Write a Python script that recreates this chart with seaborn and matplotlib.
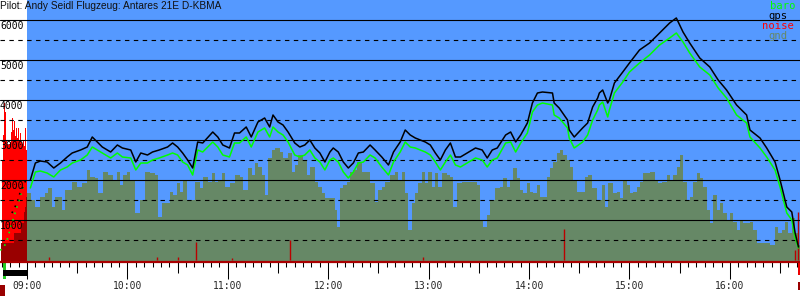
import matplotlib
matplotlib.use("Agg")
import matplotlib.pyplot as plt
from matplotlib.patches import Rectangle
from matplotlib.ticker import MultipleLocator, FixedLocator, FuncFormatter
import pandas as pd
import seaborn as sns

# time = minutes after 09:00, altitudes in ft
flight_min = [2, 5, 8, 12, 16, 20, 24, 27, 32, 36, 39, 42, 45, 50, 54, 57, 62, 65, 68, 72,
              75, 79, 84, 87, 90, 93, 96, 99, 102, 105, 111, 114,
              117, 121, 124, 127, 131, 134, 138, 142, 145, 147, 150, 153, 156, 160, 163, 166,
              169, 172, 175, 178, 181, 183, 186, 189, 192, 195, 198, 201, 205, 208, 212, 216,
              219, 223, 226, 229,
              232, 235, 238, 241, 244, 247, 250, 253, 256, 259, 263, 268, 272, 275, 278, 281,
              286, 289, 292, 295, 299, 302, 305, 308, 314, 315, 318, 323, 324, 327, 332, 335, 338,
              341, 342, 344, 347, 348, 351, 356, 360, 366, 372, 378, 384, 388, 392, 396, 402,
              408, 413, 418, 424, 430, 432, 438, 442, 447, 450, 454, 457, 459, 461]
gps_alt = [2000, 2425, 2475, 2450, 2300, 2425, 2575, 2675, 2750, 2825, 3075, 2950, 2825, 2700,
           2875, 2800, 2750, 2450, 2675, 2625, 2700, 2750, 2825, 2925, 2825, 2675, 2500, 2300,
           2950, 2925, 3200, 3075,
           2875, 2800, 3175, 3175, 3325, 3075, 3450, 3550, 3325, 3625, 3450, 3375, 3200, 2925,
           2825, 2875, 3000, 2800, 2675, 2450, 2700, 2800, 2700, 2450, 2300, 2425, 2675, 2700,
           2875, 2750, 2575, 2375, 2700, 2950, 3250, 3125,
           3050, 3000, 2950, 2875, 2675, 2500, 2750, 2925, 2575, 2575, 2675, 2800, 2750, 2550,
           2750, 2800, 3125, 3200, 2950, 3125, 3425, 3925, 4175, 4200, 4175, 3925, 3800, 3500,
           3250, 3075, 3300, 3425, 3825,
           4050, 4175, 4250, 3925, 4000, 4425, 4700, 4925, 5250, 5425, 5675, 5925, 6050, 5700,
           5425, 5050, 4825, 4500, 4250, 3875, 3625, 3250, 3050, 2800, 2450, 2000, 1325, 1200,
           675, 325]
baro_alt = [1800, 2200, 2225, 2175, 2075, 2250, 2325, 2425, 2500, 2625, 2825, 2750, 2675, 2550,
            2675, 2575, 2550, 2250, 2425, 2425, 2500, 2550, 2625, 2675, 2625, 2450, 2375, 2125,
            2750, 2700, 2950, 2825,
            2625, 2575, 2925, 2925, 3075, 2825, 3200, 3300, 3075, 3325, 3200, 3125, 2950, 2625,
            2575, 2625, 2750, 2550, 2450, 2250, 2500, 2550, 2450, 2200, 2050, 2200, 2425, 2450,
            2625, 2550, 2325, 2125, 2450, 2700, 2950, 2825,
            2800, 2750, 2700, 2625, 2450, 2250, 2450, 2625, 2375, 2325, 2425, 2550, 2500, 2325,
            2500, 2550, 2925, 2950, 2700, 2925, 3175, 3700, 3875, 3925, 3875, 3625, 3550, 3300,
            3050, 2800, 2950, 3125, 3500,
            3750, 3875, 3950, 3575, 3750, 4175, 4450, 4700, 4925, 5125, 5375, 5550, 5675, 5450,
            5175, 4825, 4625, 4300, 4050, 3625, 3425, 3075, 2800, 2575, 2250, 1825, 1175, 1000,
            550, 300]

# climb under engine (sparse fixes before 09:00)
climb_gps_min = [-9.0, -6.0, -4.2, -2.4, 0.0]
climb_gps_alt = [1175, 1425, 1675, 1825, 2075]
climb_baro_min = [-16.1, -14.3, -11.9, -10.2, -8.4, -6.0, -4.2, -2.4, 0.0]
climb_baro_alt = [250, 275, 500, 750, 1000, 1325, 1575, 1825, 1875]

gnd_min = [0, 2.4, 4.8, 7.8, 10.8, 12.5, 14.9, 16.7, 20.9, 22.7, 26.9, 29.9, 32.9, 35.9, 37.6,
           40.6, 42.4, 45.4, 48.4, 51.4, 53.8, 55.6, 57.4, 59.8, 61.5, 64.5, 67.5, 70.5, 73.5,
           76.5, 78.3, 80.7, 82.5, 85.4, 87.2, 89.6, 91.4, 93.2, 95.6, 97.4, 100.4, 103.4, 105.2,
           108.1, 110.5, 112.3, 114.1, 116.5, 118.3, 121.3, 124.3, 127.3, 129.1, 132.0, 134.4,
           136.2, 138.0, 140.4, 142.2, 144.0, 146.4, 148.2, 151.2, 153.0, 156.0, 158.3, 160.1,
           161.9, 164.9, 167.3, 169.1, 172.1, 173.9, 176.3, 178.1, 182.2, 184.0, 185.2, 187.0,
           188.8, 191.2, 193.0, 194.8, 197.2, 200.2, 203.2, 204.9, 207.9, 209.7, 212.1, 213.9,
           216.9, 219.9, 221.7, 224.1, 225.9, 227.6, 230.0, 231.8, 233.6, 236.0, 237.8, 239.6,
           242.0, 243.8, 245.6, 248.0, 251.0, 252.7, 254.5, 256.9, 259.9, 265.9, 268.9, 270.7,
           272.5, 274.9, 276.6, 279.6, 282.6, 284.4, 286.8, 288.6, 290.4, 292.8, 294.6, 296.4,
           298.8, 300.5, 302.3, 304.7, 306.5, 308.3, 310.7, 312.5, 314.3, 316.7, 318.5, 320.3,
           322.7, 324.4, 326.2, 328.6, 330.4, 333.4, 335.2, 337.6, 340.6, 343.6, 345.4, 347.1,
           350.1, 352.5, 354.3, 356.1, 358.5, 360.3, 362.1, 364.5, 366.3, 368.1, 370.5, 372.2,
           375.2, 377.0, 379.4, 382.4, 384.2, 386.0, 388.4, 390.2, 392.0, 394.4, 396.1, 397.9,
           400.3, 402.1, 403.9, 406.3, 408.1, 409.9, 412.3, 414.1, 415.9, 418.3, 420.0, 421.8,
           424.2, 426.0, 427.8, 432.0, 433.8, 436.2, 443.9, 446.9, 448.7, 451.1, 452.9, 454.7,
           457.1, 458.9, 460.7, 461.9]
gnd_alt = [1675, 1500, 1325, 1575, 1675, 1800, 1325, 1575, 1250, 1750, 1950, 1825, 1925, 2250,
           2075, 2050, 1675, 2200, 2125, 2000, 2200, 1875, 2125, 2200, 2000, 1175, 1500, 2200,
           2175, 2125, 1075, 1425, 1425, 1700, 1625, 1925, 1700, 2000, 1500, 1500, 1950, 1800,
           2075, 1950, 2175, 1950, 2000, 2175, 1825, 1925, 2125, 2075, 1750, 2300, 2125, 2425,
           2325, 2125, 1625, 2550, 2750, 2800, 2700, 2550, 2675, 2200, 2375, 2625, 2500, 2125,
           2325, 1950, 1825, 1675, 1550, 1550, 1250, 825, 1800, 1875, 1950, 2200, 2250, 2450,
           2200, 2200, 1925, 1450, 1750, 1825, 1950, 2125, 2200, 2000, 2200, 1675, 750, 1425,
           1675, 1925, 2200, 1925, 2200, 1825, 2175, 1825, 2175, 2125, 2075, 1325, 1925, 1950,
           1950, 1875, 1000, 825, 1125, 1500, 1800, 1825, 2050, 1825, 2000, 2300, 2050, 1750,
           1675, 1925, 1700, 1675, 1875, 1575, 1575, 2075, 2300, 2450, 2675, 2750, 2625, 2500,
           2325, 2000, 1700, 1700, 2075, 2125, 1800, 1500, 1875, 1325, 1925, 1675, 1700, 1550,
           2000, 1875, 1675, 1700, 1825, 1950, 2175, 2175, 2200, 2000, 1925, 1950, 2125, 2000,
           2125, 2325, 2625, 1950, 1500, 1575, 1950, 2175, 2050, 1825, 1250, 925, 1625, 1250,
           1425, 1175, 1000, 1175, 950, 750, 1000, 925, 950, 750, 425, 375, 825, 675, 750, 950,
           675, 1050, 675, 375, 375]

# ground under the engine run (drawn dark red)
motor_gnd_min = [-15.5, -8.4, -7.8, -4.2, -3.6, -1.8, -1.2, -0.6, 0.0]
motor_gnd_alt = [425, 425, 675, 675, 925, 1200, 1325, 1575, 2175]

# engine noise level
engine_noise_min = [-14.9, -14.3, -13.7, -13.1, -12.5, -11.9, -11.4, -10.8, -10.2, -9.6, -9.0,
                    -8.4, -7.8, -7.2, -6.6, -6.0, -5.4, -4.8, -4.2, -3.6, -3.0, -2.4, -1.8,
                    -1.2, -0.6]
engine_noise = [2500, 3125, 3925, 3700, 3000, 2900, 2875, 2900, 2950, 3200, 3550, 3250, 3475,
                3100, 3300, 3050, 3300, 3000, 3175, 2950, 2900, 3000, 2850, 3300, 2750]
flight_noise_min = [13.1, 77.7, 90.2, 101.0, 122.5, 157.1, 236.6, 320.9, 458.9, 460.7]
flight_noise = [75, 75, 75, 450, 50, 500, 75, 775, 250, 1200]

takeoff_min = -14.3
engine_off_min = 0.0
landing_min = 460.7

hour_labels = ["09:00", "10:00", "11:00", "12:00", "13:00", "14:00", "15:00", "16:00"]
alt_labels = [1000, 2000, 3000, 4000, 5000, 6000]
title = "Pilot: Andy Seidl Flugzeug: Antares 21E D-KBMA"

SKY = "#5599ff"
GND = "#668866"
DARKRED = "#990000"

sns.set_style("white")
plt.rcParams["font.family"] = ["DejaVu Sans Mono"]

fig = plt.figure(figsize=(8, 3), dpi=100)
ax = fig.add_axes([0, 38 / 300, 1, 262 / 300])
ax.set_xlim(-16.13, 461.9)
ax.set_ylim(-50, 6500)
ax.set_facecolor("white")

# sky only while gliding
ax.axvspan(0, 461.9, color=SKY, lw=0, zorder=0)

ax.fill_between(gnd_min, gnd_alt, -50, step="post", color=GND, lw=0, zorder=1)
ax.bar(engine_noise_min, engine_noise, width=0.75, bottom=0, color="#ff0000", lw=0,
       align="edge", zorder=1)
ax.fill_between(motor_gnd_min, motor_gnd_alt, -50, step="post", color=DARKRED, lw=0, zorder=1.5)
ax.vlines(flight_noise_min, 0, flight_noise, color="#bb0000", lw=1.0, zorder=1.6)

for v in range(500, 6001, 500):
    ls = "-" if v % 1000 == 0 else (0, (4, 4))
    ax.axhline(v, color="black", lw=0.8, ls=ls, zorder=3)

df = pd.DataFrame({"t": flight_min * 2, "alt": baro_alt + gps_alt,
                   "series": ["baro"] * len(flight_min) + ["gps"] * len(flight_min)})
sns.lineplot(data=df, x="t", y="alt", hue="series", palette={"baro": "#00ff00", "gps": "black"},
             estimator=None, legend=False, lw=1.1, ax=ax, zorder=4)
ax.plot(climb_baro_min, climb_baro_alt, color="#00ff00", lw=1.2, ls=(0, (1, 3)), zorder=4)
ax.plot(climb_gps_min, climb_gps_alt, color="black", lw=1.2, ls=(0, (1, 3)), zorder=4)

# axes decoration
for s in ["top", "left", "right"]:
    ax.spines[s].set_visible(False)
ax.spines["bottom"].set_color("#aa0000")
ax.spines["bottom"].set_linewidth(1.6)
ax.spines["bottom"].set_zorder(5)
ax.set_yticks([])
ax.set_xlabel("")
ax.set_ylabel("")
ax.xaxis.set_major_locator(FixedLocator(list(range(0, 421, 60))))
ax.xaxis.set_major_formatter(FuncFormatter(lambda v, p: hour_labels[int(round(v / 60))]))
ax.xaxis.set_minor_locator(MultipleLocator(5))
ax.tick_params(axis="x", which="major", bottom=True, direction="out", length=12.2, width=0.75,
               color="black", labelsize=7, pad=1.5)
ax.tick_params(axis="x", which="minor", bottom=True, direction="out", length=3.6, width=0.75,
               color="black")

sec = ax.secondary_xaxis("bottom")
sec.set_xticks(list(range(30, 461, 60)))
sec.tick_params(axis="x", which="major", bottom=True, direction="out", length=7.9, width=0.75,
                color="black", labelbottom=False)
sec.xaxis.set_minor_locator(FixedLocator([]))
sec.spines["bottom"].set_visible(False)

for v in alt_labels:
    ax.text(0, v - 25, str(v), transform=ax.get_yaxis_transform(), ha="left", va="top",
            fontsize=7, color="black", zorder=6)

# takeoff / engine / landing markers under the time axis
tr = ax.get_xaxis_transform()
ax.add_patch(Rectangle((takeoff_min, -0.0649), 1.8, 0.0649, transform=tr, color="#22cc22",
                       lw=0, clip_on=False))
ax.add_patch(Rectangle((takeoff_min, -0.0534), engine_off_min - takeoff_min, 0.0229,
                       transform=tr, color="black", lw=0, clip_on=False))
ax.add_patch(Rectangle((-16.13, -0.1298), 3.0, 0.042, transform=tr, color=DARKRED,
                       lw=0, clip_on=False))
ax.add_patch(Rectangle((landing_min, -0.0496), 1.2, 0.0496, transform=tr, color="#ee0000",
                       lw=0, clip_on=False))
ax.add_patch(Rectangle((landing_min, -0.1069), 1.2, 0.0305, transform=tr, color=DARKRED,
                       lw=0, clip_on=False))

fig.text(0, 1 - 1 / 300, title, ha="left", va="top", fontsize=7.3,
         family=["Liberation Sans"], color="#111111")

legend = [("baro", "#00ff00", 770, 9), ("gps", "black", 768, 19),
          ("noise", "#ff0000", 762, 29), ("gnd", GND, 768, 39)]
for name, c, px, py in legend:
    fig.text(px / 800, 1 - py / 300, name, ha="left", va="baseline", fontsize=7.6, color=c)

fig.savefig("out.png", dpi=100)
